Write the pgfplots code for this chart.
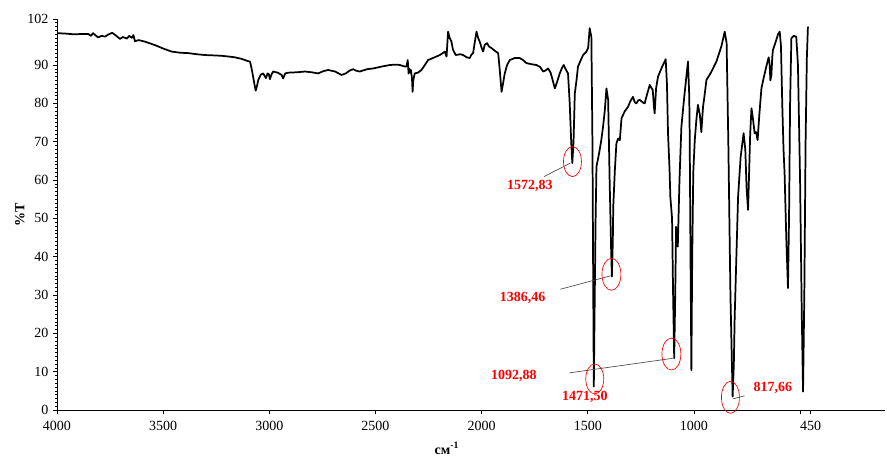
\documentclass[border=0pt]{standalone}
\usepackage{fontspec}
\setmainfont{Liberation Serif}
\usepackage{pgfplots}
\pgfplotsset{compat=1.18}
\begin{document}
\begin{tikzpicture}
\begin{axis}[
  at={(0,0)}, anchor=south west,
  scale only axis, width=621pt, height=293.25pt,
  x dir=reverse, xmin=100, xmax=4000, ymin=0, ymax=102,
  axis x line=bottom, axis y line=left,
  axis line style={-, line width=0.6pt},
  tick align=outside, major tick length=3pt, minor tick length=1.5pt,
  tick style={black, line width=0.5pt},
  xtick={4000,3500,3000,2500,2000,1500,1000,500,450},
  xticklabels={4000,3500,3000,2500,2000,1500,1000,,450},
  ytick={0,10,20,30,40,50,60,70,80,90,102},
  yticklabels={0,10,20,30,40,50,60,70,80,90,102},
  minor ytick={1,2,...,101},
  /pgf/number format/assume math mode=true,
  tick label style={font=\fontsize{10.5}{12}\selectfont},
  xticklabel style={yshift=-2pt},
  xlabel={\textbf{см\textsuperscript{-1}}},
  ylabel={\textbf{\%T}},
  xlabel style={at={(axis description cs:0.471,-0.098)}, anchor=center, font=\fontsize{10.5}{12}\selectfont},
  ylabel style={at={(axis description cs:-0.045,0.5)}, anchor=center, font=\fontsize{10.5}{12}\selectfont},
  clip=false,
]
\addplot[black, line width=1.3pt, line join=round] coordinates {
(3998,98.3)(3960,98.2)(3920,98.0)(3880,98.1)(3853,98.1)(3840,97.6)(3830,98.3)(3820,97.8)
(3806,97.2)(3790,97.6)(3774,97.4)(3760,97.9)(3740,98.4)(3725,97.8)(3703,96.8)(3690,97.3)
(3670,96.9)(3660,97.6)(3648,97.1)(3640,97.8)(3633,96.2)(3615,96.5)(3586,96.1)(3560,95.6)
(3539,95.2)(3500,94.3)(3460,93.5)(3420,93.2)(3382,93.1)(3340,92.8)(3303,92.6)(3260,92.5)
(3225,92.4)(3190,92.2)(3162,92.0)(3130,91.6)(3115,91.3)(3100,91.0)(3091,90.9)(3085,89.5)
(3079,87.8)(3070,85.0)(3064,83.3)(3058,84.5)(3052,86.1)(3040,87.5)(3029,87.8)(3016,86.6)
(3008,87.8)(3002,87.6)(2997,86.3)(2990,87.5)(2982,88.3)(2960,88.0)(2942,87.4)(2935,86.5)
(2925,87.8)(2911,88.0)(2870,88.1)(2832,88.3)(2800,88.1)(2770,87.8)(2745,88.4)(2723,88.7)
(2690,88.3)(2660,87.4)(2640,87.8)(2620,88.6)(2605,88.9)(2590,88.5)(2574,88.3)(2540,88.9)
(2511,89.1)(2470,89.6)(2432,90.0)(2400,90.1)(2385,90.0)(2362,89.6)(2354,89.6)(2348,91.3)
(2344,87.8)(2340,89.0)(2336,88.0)(2333,88.7)(2328,86.5)(2325,83.0)(2322,86.0)(2315,87.8)
(2300,88.0)(2283,88.7)(2265,90.2)(2252,91.3)(2230,91.8)(2197,92.6)(2180,93.2)(2173,93.5)
(2165,92.2)(2162,95.0)(2158,98.7)(2150,97.0)(2142,96.1)(2135,94.0)(2122,92.6)(2100,92.8)
(2087,92.6)(2070,92.0)(2056,91.8)(2048,92.7)(2040,93.1)(2032,96.0)(2024,98.7)(2016,97.0)
(2009,96.1)(2000,94.5)(1993,93.5)(1985,95.3)(1974,95.7)(1965,94.8)(1953,94.4)(1935,93.6)
(1922,93.1)(1915,89.0)(1906,83.0)(1898,85.5)(1891,87.8)(1880,90.0)(1867,91.3)(1845,91.8)
(1820,91.8)(1805,91.3)(1789,90.5)(1765,90.2)(1742,90.0)(1725,89.5)(1710,88.3)(1698,88.6)
(1687,89.1)(1675,88.0)(1665,86.0)(1655,83.9)(1645,85.5)(1632,87.8)(1620,89.4)(1613,90.0)
(1605,89.0)(1593,87.8)(1585,80.0)(1578,70.0)(1572.83,64.4)(1567,70.0)(1561,82.6)(1553,86.0)
(1546,89.6)(1535,91.0)(1522,92.6)(1506,93.5)(1498,94.5)(1491,99.6)(1483,97.3)(1478,70)
(1474,30)(1471.5,6.1)(1468,25)(1463,50)(1459,63.5)(1450,66)(1444,67.8)(1436,70.5)
(1428,73.9)(1420,78)(1412,83.9)(1404,80.9)(1397,60)(1390,42)(1386.46,34.8)(1382,44)
(1380,53.0)(1372,63)(1365,69.6)(1357,70.8)(1349,70.4)(1341,76.1)(1325,78)(1310,79.1)
(1300,80.5)(1287,81.7)(1279,80.3)(1271,80.0)(1262,80.8)(1255,80.9)(1240,80.2)(1232,80.0)
(1220,82.5)(1208,84.8)(1200,84.0)(1194,83.5)(1188,79)(1185,77.4)(1178,84)(1169,87.0)
(1150,89.5)(1133,91.5)(1127,85)(1122,72.2)(1115,63)(1111,55.6)(1103,50)(1098,30)
(1092.88,13.5)(1088,30)(1084,47.8)(1080,44)(1076,42.6)(1068,60)(1059,73.9)(1045,82)
(1028,90.9)(1022,82)(1020,72.2)(1016,40)(1012,10.4)(1008,40)(1003,62)(996,70.4)
(988,76)(981,79.6)(972,77)(965,72.5)(961,76)(957,79.1)(950,82)(941,86.1)
(920,88)(894,90.9)(870,95)(855,98.7)(846,95.7)(838,70)(828,30)(817.66,3.5)
(812,12)(808,24.3)(800,40)(792,55.6)(780,66)(766,72.2)(758,68)(752,58)
(745,52.2)(740,62)(735,72)(729,78.7)(722,76)(714,72.2)(707,72.5)(700,70.4)
(692,77)(682,83.9)(670,87)(659,89.6)(648,92)(643,90)(640,86)(635,87.4)
(631,92)(628,93.9)(615,96)(604,98)(596,98.7)(590,95)(584,80)(578,68)
(573,61.8)(565,45)(557,31.8)(552,50)(547,80)(541,97.0)(530,97.6)(518,97.4)
(510,90)(500,60)(492,25)(486,4.8)(480,30)(474,70)(468,92)(463,100.0)
};
% leader lines
\draw[black!70, line width=0.5pt] (axis cs:1706,60.9) -- (axis cs:1582,64.4);
\draw[black!70, line width=0.5pt] (axis cs:1629,31.5) -- (axis cs:1393,35.0);
\draw[black!70, line width=0.5pt] (axis cs:1585,9.7) -- (axis cs:1098,13.5);
\draw[black!70, line width=0.5pt] (axis cs:816,2.9) -- (axis cs:761,3.7);
% ellipses
\draw[red, line width=0.5pt] (axis cs:1572,64.8) ellipse [x radius=6.75pt, y radius=11.25pt];
\draw[red, line width=0.5pt] (axis cs:1388.5,35.4) ellipse [x radius=7.1pt, y radius=12pt];
\draw[red, line width=0.5pt] (axis cs:1106,14.6) ellipse [x radius=7.1pt, y radius=12pt];
\draw[red, line width=0.5pt] (axis cs:1467,8.1) ellipse [x radius=6.75pt, y radius=11.25pt];
\draw[red, line width=0.5pt] (axis cs:828,3.3) ellipse [x radius=6.75pt, y radius=12pt];
% labels
\begin{scope}[every node/.style={text=red, font=\bfseries\fontsize{10.5}{12}\selectfont, inner sep=0pt}]
\node at (axis cs:1773,58.4) {1572,83};
\node at (axis cs:1807,29.3) {1386,46};
\node at (axis cs:1848,8.9) {1092,88};
\node at (axis cs:1514,3.5) {1471,50};
\node at (axis cs:628,5.8) {817,66};
\end{scope}
\end{axis}
\pgfresetboundingbox
\path[use as bounding box] (-42.75pt,-35.25pt) rectangle (622.5pt,307.5pt);
\end{tikzpicture}
\end{document}
